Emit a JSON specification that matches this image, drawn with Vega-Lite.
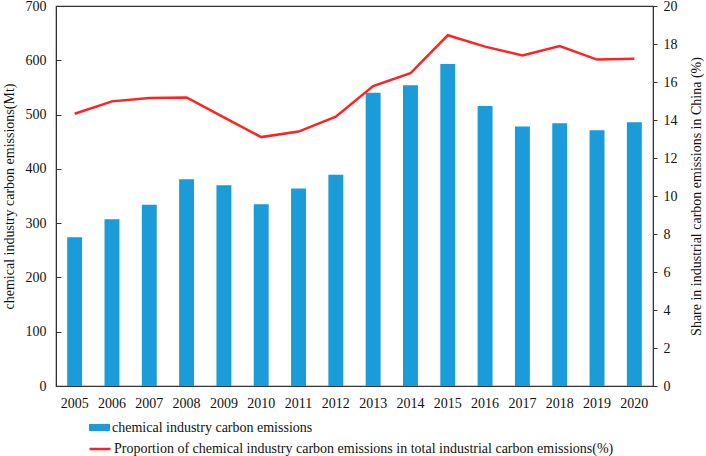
{
  "$schema": "https://vega.github.io/schema/vega-lite/v6.json",
  "autosize": "none",
  "padding": {"left": 56, "top": 6, "right": 53, "bottom": 70},
  "width": 597,
  "height": 380,
  "background": "white",
  "config": {
    "font": "Liberation Serif",
    "view": {"stroke": "#333333", "strokeWidth": 1.2},
    "axis": {
      "grid": false,
      "domainColor": "#333333",
      "tickColor": "#333333",
      "labelFont": "Liberation Serif",
      "titleFont": "Liberation Serif",
      "labelFontSize": 14,
      "titleFontSize": 14,
      "labelColor": "#111111",
      "titleColor": "#111111",
      "titleFontWeight": "normal"
    },
    "legend": {
      "labelFont": "Liberation Serif",
      "labelFontSize": 14,
      "labelColor": "#111111",
      "labelLimit": 700,
      "padding": 0,
      "labelOffset": 2
    }
  },
  "data": {
    "values": [
      {"year": "2005", "emissions": 274, "share": 14.33},
      {"year": "2006", "emissions": 307, "share": 14.98},
      {"year": "2007", "emissions": 334, "share": 15.16},
      {"year": "2008", "emissions": 381, "share": 15.19},
      {"year": "2009", "emissions": 370, "share": 14.14},
      {"year": "2010", "emissions": 335, "share": 13.1},
      {"year": "2011", "emissions": 364, "share": 13.39},
      {"year": "2012", "emissions": 389, "share": 14.17},
      {"year": "2013", "emissions": 540, "share": 15.79},
      {"year": "2014", "emissions": 554, "share": 16.46},
      {"year": "2015", "emissions": 593, "share": 18.46},
      {"year": "2016", "emissions": 516, "share": 17.86},
      {"year": "2017", "emissions": 478, "share": 17.4},
      {"year": "2018", "emissions": 484, "share": 17.89},
      {"year": "2019", "emissions": 471, "share": 17.18},
      {"year": "2020", "emissions": 486, "share": 17.23}
    ]
  },
  "encoding": {
    "x": {
      "field": "year",
      "type": "ordinal",
      "scale": {"paddingInner": 0.6, "paddingOuter": 0.3},
      "axis": {"title": null, "labelAngle": 0, "ticks": false, "labelPadding": 10, "domain": true}
    }
  },
  "layer": [
    {
      "mark": {"type": "bar"},
      "encoding": {
        "y": {
          "field": "emissions",
          "type": "quantitative",
          "scale": {"domain": [0, 700]},
          "axis": {
            "title": "chemical industry carbon emissions(Mt)",
            "values": [0, 100, 200, 300, 400, 500, 600, 700],
            "orient": "left",
            "tickSize": -5,
            "labelPadding": 15,
            "titlePadding": 9
          }
        },
        "fill": {
          "datum": "chemical industry carbon emissions",
          "type": "nominal",
          "scale": {"range": ["#1b9bd7"]},
          "legend": {
            "title": null,
            "orient": "none",
            "legendX": 33,
            "legendY": 411,
            "symbolType": "M-1,-0.34H1V0.34H-1Z",
            "symbolSize": 441,
            "symbolStrokeWidth": 0
          }
        }
      }
    },
    {
      "mark": {"type": "line", "strokeWidth": 2.5},
      "encoding": {
        "y": {
          "field": "share",
          "type": "quantitative",
          "scale": {"domain": [0, 20]},
          "axis": {
            "title": "Share in industrial carbon emissions in China (%)",
            "values": [0, 2, 4, 6, 8, 10, 12, 14, 16, 18, 20],
            "orient": "right",
            "tickSize": 4,
            "labelPadding": 6,
            "titleAngle": 270,
            "titlePadding": 26
          }
        },
        "stroke": {
          "datum": "Proportion of chemical industry carbon emissions in total industrial carbon emissions(%)",
          "type": "nominal",
          "scale": {"range": ["#ff2222"]},
          "legend": {
            "title": null,
            "orient": "none",
            "legendX": 32,
            "legendY": 431,
            "symbolType": "stroke",
            "symbolSize": 441,
            "symbolStrokeWidth": 2.5
          }
        }
      }
    }
  ],
  "resolve": {"scale": {"y": "independent"}}
}
